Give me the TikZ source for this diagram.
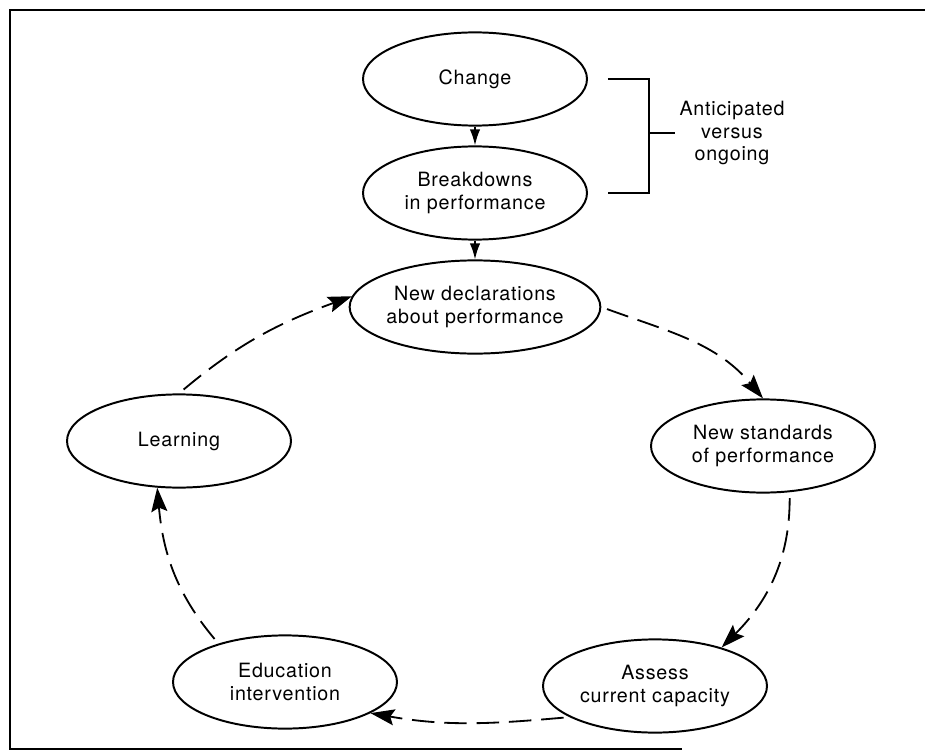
\documentclass[tikz,border=0pt]{standalone}
\usepackage{fontspec}
\setmainfont[LetterSpace=4]{TeX Gyre Heros}
\usepackage{tikz}
\usetikzlibrary{shapes, arrows.meta}
\tikzstyle{phase} = [draw, ellipse, line width=1.4pt, minimum width=5.6cm, minimum height=2.33cm, inner sep=0pt, align=center, font=\fontsize{14}{16}\selectfont]
\tikzstyle{loopline} = [draw, line width=1.3pt, dash pattern=on 16pt off 7pt, shorten <=1.5mm, -{Stealth[length=6mm, width=4mm, inset=1mm]}]
\tikzstyle{note} = [align=center, font=\fontsize{14}{16}\selectfont]

\begin{document}
\begin{tikzpicture}[auto, node distance=2.85cm, >={Latex[length=4mm, width=2.6mm]}]
    \useasboundingbox (0,0) rectangle (23.125,-18.825);
    % 外框
    \draw [line width=1.5pt] (23.125,-0.25) -- (0.25,-0.25) -- (0.25,-18.725) -- (17.05,-18.725);

    % 放置节点
    \node [phase] (change) at (11.875,-1.975) {Change};
    \node [phase, below of=change] (breakdowns) {Breakdowns\\in performance};
    \node [phase, below of=breakdowns] (declarations) {New declarations\\about performance};
    \node [phase] (standards) at (19.075,-11.15) {New standards\\of performance};
    \node [phase] (assess) at (16.375,-17.15) {Assess\\current capacity};
    \node [phase] (education) at (7.125,-17.05) {Education\\intervention};
    \node [phase] (learning) at (4.475,-11.025) {Learning};
    \node [note] (anticipated) at (18.3,-3.33) {Anticipated\\versus\\ongoing};

    % 括号
    \coordinate (brtop) at ([xshift=5mm]change.east);
    \coordinate (brbot) at ([xshift=5mm]breakdowns.east);
    \coordinate (brmid) at (16.2,-3.33);
    \draw [line width=1.2pt] (brtop) -- ++(1.025,0) |- (brbot);
    \draw [line width=1.2pt] (brmid) -- (anticipated);

    % 连线
    \draw [->, line width=1.2pt] (change) -- (breakdowns);
    \draw [->, line width=1.2pt] (breakdowns) -- (declarations);
    \draw [loopline] (declarations.east) to[out=-20, in=130] (standards.north);
    \draw [loopline] (standards.-60) to[out=-90, in=45] (assess.30);
    \draw [loopline] (assess.-160) to[out=-175, in=-10] (education.-20);
    \draw [loopline] (education.150) to[out=130, in=-85] (learning.-115);
    \draw [loopline] (learning.north) to[out=40, in=-160] (declarations.175);
\end{tikzpicture}
\end{document}
